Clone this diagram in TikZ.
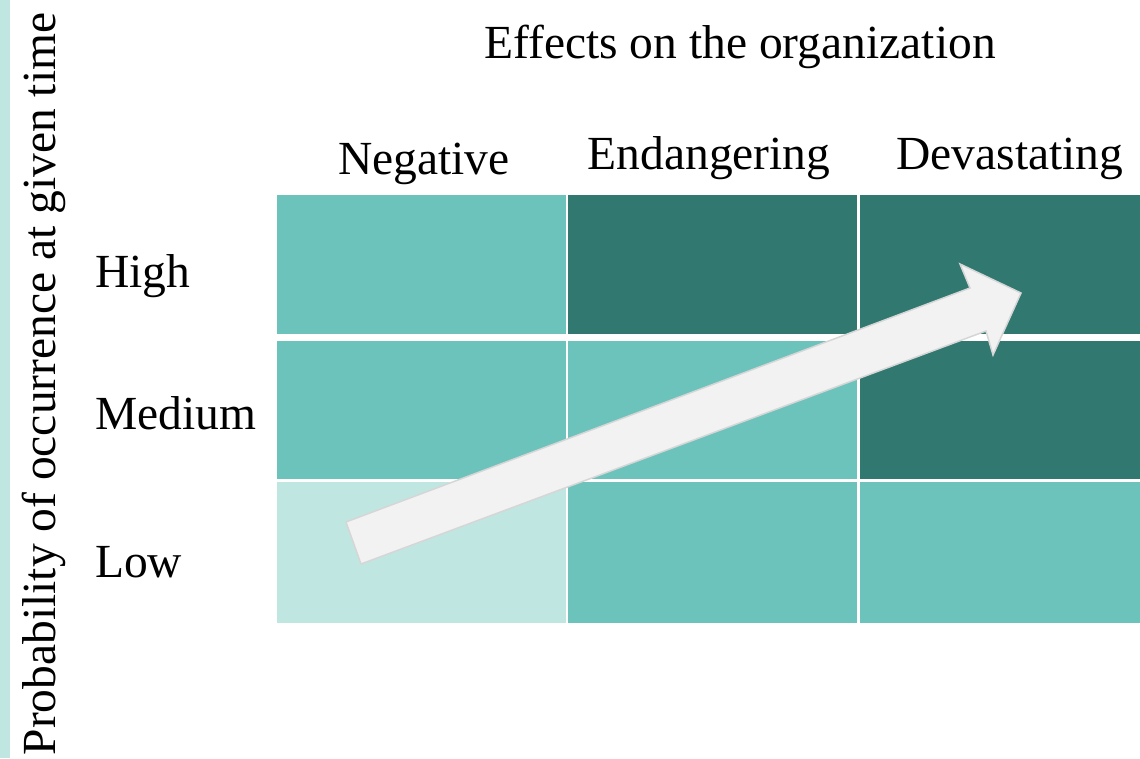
\documentclass[tikz,border=0pt]{standalone}
\usepackage{fontspec}
\IfFontExistsTF{LiberationSerif-Regular.ttf}
  {\setmainfont{LiberationSerif-Regular.ttf}}
  {\setmainfont{Liberation Serif}}
\definecolor{tealmid}{HTML}{6CC3BC}
\definecolor{tealdark}{HTML}{307870}
\definecolor{teallight}{HTML}{C0E6E2}
\definecolor{arrowfill}{HTML}{F2F2F2}
\definecolor{arrowedge}{HTML}{D6D6D6}
\begin{document}
\begin{tikzpicture}[x=1pt,y=-1pt,
  cell/.style={inner sep=0pt, outer sep=0pt, anchor=north west},
  lbl/.style={inner sep=0pt, font=\fontsize{47.5}{50}\selectfont, text=black},
  bigarrow/.style={fill=arrowfill, draw=arrowedge, line width=1.5pt, line join=miter}]
\useasboundingbox (0,0) rectangle (1140,758);
\fill[white] (0,0) rectangle (1140,758);
% side band
\fill[teallight] (0,0) rectangle (10,758);
% risk matrix cells
\node[cell, fill=tealmid,  minimum width=289pt, minimum height=139pt] (c11) at (277,195) {};
\node[cell, fill=tealdark, minimum width=289pt, minimum height=139pt] (c12) at (568,195) {};
\node[cell, fill=tealdark, minimum width=280pt, minimum height=139pt] (c13) at (860,195) {};
\node[cell, fill=tealmid,  minimum width=289pt, minimum height=138pt] (c21) at (277,341) {};
\node[cell, fill=tealmid,  minimum width=289pt, minimum height=138pt] (c22) at (568,341) {};
\node[cell, fill=tealdark, minimum width=280pt, minimum height=138pt] (c23) at (860,341) {};
\node[cell, fill=teallight,minimum width=289pt, minimum height=141pt] (c31) at (277,482) {};
\node[cell, fill=tealmid,  minimum width=289pt, minimum height=141pt] (c32) at (568,482) {};
\node[cell, fill=tealmid,  minimum width=280pt, minimum height=141pt] (c33) at (860,482) {};
% titles
\node[lbl, anchor=base] (title) at (740,58) {Effects on the organization};
\node[lbl, anchor=base] (hneg) at (424,174) {Negative};
\node[lbl, anchor=base] (hend) at (709,169) {Endangering};
\node[lbl, anchor=base] (hdev) at (1010,169) {Devastating};
\node[lbl, anchor=base west] (rhigh) at (95,287) {High};
\node[lbl, anchor=base west] (rmed) at (95,429) {Medium};
\node[lbl, anchor=base west] (rlow) at (95,577) {Low};
\node[lbl, anchor=base, rotate=90] (yaxis) at (55,384) {Probability of occurrence at given time};
% trend arrow
\coordinate (tailA) at (346,522);
\coordinate (neckA) at (970,288);
\coordinate (barbA) at (960,264);
\coordinate (tip)   at (1021,293);
\coordinate (barbB) at (993,355);
\coordinate (neckB) at (986,331);
\coordinate (tailB) at (361,564);
\draw[bigarrow] (tailA) -- (neckA) -- (barbA) -- (tip) -- (barbB) -- (neckB) -- (tailB) -- cycle;
\end{tikzpicture}
\end{document}
